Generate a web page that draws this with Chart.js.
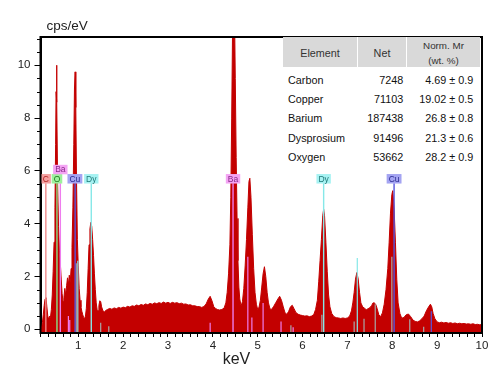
<!DOCTYPE html>
<html><head><meta charset="utf-8">
<script src="https://cdn.jsdelivr.net/npm/chart.js@4/dist/chart.umd.min.js"></script>
<style>
html,body{margin:0;padding:0;background:#fff;}
#wrap{position:relative;width:491px;height:369px;overflow:hidden;font-family:"Liberation Sans",Arial,sans-serif;}
#c{position:absolute;left:0;top:0;}
#tbl{position:absolute;left:283px;top:37px;width:197px;height:132px;background:#fff;}
#tbl .hd{position:absolute;top:0;height:30px;background:#d9d9d9;color:#333;}
#tbl .t{position:absolute;white-space:nowrap;color:#111;font-size:10.8px;height:18px;line-height:18px;}
</style></head>
<body><div id="wrap"><canvas id="c" width="491" height="369"></canvas><div id="tbl"></div></div>
<script>
// ---- spectrum data (keV, cps/eV) ----
const energies = [
0.158,0.18,0.20,0.22,0.24,0.26,0.28,0.30,0.32,0.34,0.36,0.38,0.40,0.42,0.44,0.46,0.48,0.495,0.505,0.515,
0.525,0.54,0.56,0.58,0.60,0.62,0.64,0.66,0.68,0.70,0.72,0.74,0.76,0.78,0.80,0.82,0.84,0.86,0.88,0.90,
0.915,0.93,0.945,0.96,0.98,1.00,1.02,1.04,1.06,1.08,1.10,1.12,1.14,1.16,1.18,1.20,1.22,1.24,1.26,1.28,
1.30,1.32,1.34,1.36,1.38,1.40,1.42,1.44,1.46,1.48,1.50,1.52,1.55,1.58,1.61,1.65,1.70,1.75,1.80,1.85,
1.90,1.95,2.00,2.05,2.10,2.15,2.20,2.25,2.30,2.35,2.40,2.45,2.50,2.55,2.60,2.65,2.70,2.75,2.80,2.85,
2.90,2.95,3.00,3.05,3.10,3.15,3.20,3.25,3.30,3.35,3.40,3.45,3.50,3.55,3.60,3.65,3.70,3.75,3.80,3.85,
3.90,3.94,3.98,4.02,4.06,4.10,4.15,4.20,4.25,4.29,4.32,4.35,4.38,4.40,4.42,4.44,4.46,4.48,4.50,4.52,
4.54,4.56,4.58,4.60,4.63,4.66,4.69,4.72,4.75,4.78,4.805,4.825,4.85,4.88,4.91,4.94,4.97,5.00,5.03,5.06,
5.09,5.12,5.15,5.18,5.21,5.24,5.27,5.30,5.35,5.40,5.45,5.49,5.53,5.57,5.61,5.65,5.69,5.73,5.77,5.81,
5.85,5.90,5.95,6.00,6.05,6.10,6.15,6.20,6.25,6.29,6.33,6.36,6.39,6.42,6.45,6.47,6.49,6.52,6.55,6.58,
6.61,6.65,6.70,6.75,6.80,6.85,6.90,6.95,7.00,7.05,7.09,7.12,7.15,7.18,7.21,7.24,7.27,7.30,7.34,7.38,
7.42,7.46,7.50,7.54,7.57,7.60,7.63,7.66,7.70,7.74,7.78,7.82,7.86,7.90,7.93,7.96,7.99,8.01,8.04,8.07,
8.10,8.13,8.17,8.21,8.26,8.31,8.36,8.41,8.46,8.51,8.56,8.61,8.66,8.71,8.76,8.81,8.85,8.88,8.91,8.95,
9.00,9.05,9.10,9.15,9.20,9.25,9.30,9.35,9.40,9.45,9.50,9.55,9.60,9.65,9.70,9.75,9.80,9.85,9.90,9.95,
10.0];
const counts = [
0.00,0.05,0.25,0.55,0.90,1.15,1.20,0.85,0.50,0.38,0.50,0.45,0.75,1.30,2.20,3.30,4.60,7.00,9.00,10.0,
8.60,5.50,3.90,3.00,2.50,1.90,1.35,1.05,1.20,1.55,1.30,1.65,1.95,1.70,2.05,1.75,2.30,3.10,4.60,7.00,
9.10,9.75,8.40,5.80,3.40,2.40,1.55,1.10,0.85,0.68,0.55,0.45,0.40,0.50,0.80,1.40,2.30,3.20,3.80,4.05,
3.90,3.40,2.80,2.10,1.50,1.00,0.75,0.70,0.90,1.08,1.05,0.85,0.70,0.66,0.71,0.75,0.79,0.76,0.81,0.78,
0.83,0.80,0.84,0.82,0.87,0.84,0.89,0.87,0.92,0.89,0.94,0.91,0.96,0.93,0.98,0.95,1.00,0.97,1.01,0.98,
1.03,0.99,1.02,0.98,1.02,0.99,1.01,0.97,0.99,0.95,0.96,0.92,0.93,0.89,0.89,0.86,0.86,0.83,0.86,0.96,
1.15,1.25,1.08,0.86,0.79,0.75,0.73,0.75,0.80,1.00,1.40,2.10,3.20,5.00,8.00,11.5,13.5,12.5,9.50,6.50,
4.20,2.60,1.60,1.15,0.88,1.05,1.55,2.40,3.40,4.60,5.60,5.72,5.00,3.60,2.30,1.40,0.95,0.75,0.84,1.10,
1.60,2.10,2.37,2.00,1.40,1.00,0.80,0.74,0.85,1.00,1.15,1.25,1.10,0.85,0.62,0.57,0.68,0.85,0.91,0.78,
0.64,0.57,0.54,0.52,0.50,0.51,0.48,0.50,0.56,0.75,1.10,1.80,2.60,3.40,4.30,4.55,4.30,3.30,2.20,1.30,
0.85,0.60,0.48,0.44,0.43,0.41,0.43,0.41,0.43,0.50,0.70,1.00,1.40,1.90,2.15,1.90,1.40,1.00,0.85,0.80,
0.74,0.78,0.82,0.90,1.00,1.00,0.95,0.80,0.55,0.48,0.62,0.95,1.50,2.30,3.30,4.40,5.10,5.25,4.60,3.30,
1.90,1.00,0.60,0.42,0.45,0.55,0.58,0.48,0.35,0.30,0.28,0.32,0.40,0.50,0.70,0.85,0.95,0.85,0.60,0.40,
0.28,0.25,0.27,0.24,0.26,0.23,0.25,0.22,0.24,0.21,0.23,0.21,0.22,0.20,0.21,0.19,0.21,0.18,0.19,0.17,
0.18];

// ---- element marker lines (keV, height in cps/eV, element) ----
const markerEnergy  = [0.277,0.525,0.60,0.93,1.29,4.45,6.47,8.04, 0.78,0.81,0.955,0.99,1.50,1.68,3.94,4.78,4.87,5.12,5.52,5.74,5.79,6.43,7.15,7.22,7.37,7.62,7.99,8.39,8.70,8.87];
const markerHeight  = [5.53,5.53,5.53,5.53,5.53,5.53,5.53,5.53, 0.50,0.35,2.50,2.60,0.25,0.12,0.25,2.75,0.45,1.00,0.30,0.15,0.08,0.55,0.30,2.70,0.40,0.95,2.75,0.38,0.10,0.68];
const markerElement = ['C','O','Ba','Cu','Dy','Ba','Dy','Cu', 'Ba','Ba','other','Dy','other','other','Ba','Ba','Ba','Ba','Ba','other','Ba','other','other','Dy','other','other','other','other','other','Cu'];

// ---- peak labels ----
const labelElement = ['C','O','Ba','Cu','Dy','Ba','Dy','Cu'];
const labelEnergy  = [0.277,0.525,0.60,0.925,1.29,4.45,6.47,8.04];
const labelLevel   = [5.70,5.70,6.05,5.70,5.70,5.70,5.70,5.70];

// ---- axis ticks ----
const xTickLabels = [1,2,3,4,5,6,7,8,9,10];
const yTickLabels = [0,2,4,6,8,10];

// ---- quantification table ----
const tblElements = ['Carbon','Copper','Barium','Dysprosium','Oxygen'];
const tblNet      = [7248,71103,187438,91496,53662];
const tblNormMr   = ['4.69','19.02','26.8','21.3','28.2'];
const tblErr      = ['0.9','0.5','0.8','0.6','0.9'];

// ---- styles ----
const X_MIN = 0.158, X_MAX = 10, Y_MIN = -0.14, Y_MAX = 11.07;
const FONT = '"Liberation Sans", Arial, sans-serif';
const elemStyle = {
  C:  {line:'#ee8a8a', box:'#f3a0a0', text:'#b02020'},
  O:  {line:'#86e486', box:'#9cf09c', text:'#207a20'},
  Ba: {line:'#ee7cee', box:'#f4a4f4', text:'#8a2a8a'},
  Cu: {line:'#5656dc', box:'#a4a4f2', text:'#2a2a90'},
  Dy: {line:'#86e8e8', box:'#a6f2f2', text:'#207878'},
  other: {line:'#a8a8a8'}
};

const spectrum = {
  label:'spectrum', order:10,
  data: energies.map((e,i)=>({x:e,y:counts[i]})),
  borderColor:'#c30000', backgroundColor:'#c30000', borderWidth:1,
  pointRadius:0, fill:'start', tension:0
};
const markerSets = markerEnergy.map((e,i)=>({
  label:'m'+i, order:1,
  data:[{x:e,y:Y_MIN},{x:e,y:markerHeight[i]}],
  borderColor: elemStyle[markerElement[i]].line,
  borderWidth: i<8 ? 1.4 : 1.2,
  pointRadius:0, fill:false
}));

const xMinorTicks = [];
for (let k=1;k<=60;k++){ const v=k/6; if (v>=X_MIN && v<=X_MAX) xMinorTicks.push(v); }
const yMinorTicks = [];
for (let k=0;k<=22;k++){ const v=k/2; if (v<=Y_MAX && !yTickLabels.includes(v)) yMinorTicks.push(v); }

const decor = {
  id:'decor',
  afterDatasetsDraw(chart){
    const ctx = chart.ctx, xs = chart.scales.x, ys = chart.scales.y;
    ctx.save();
    ctx.font = '8.5px ' + FONT;
    ctx.textAlign='center'; ctx.textBaseline='middle';
    labelElement.forEach((el,i)=>{
      const st = elemStyle[el];
      const cx = xs.getPixelForValue(labelEnergy[i]);
      const cy = ys.getPixelForValue(labelLevel[i]);
      const w = ctx.measureText(el).width + 4;
      const h = 9.5;
      ctx.fillStyle = st.box;
      ctx.fillRect(cx - w/2, cy - h/2, w, h);
      ctx.fillStyle = st.text;
      ctx.fillText(el, cx, cy + 0.5);
    });
    ctx.restore();
  },
  afterDraw(chart){
    const ctx = chart.ctx, a = chart.chartArea, ys = chart.scales.y;
    ctx.save();
    ctx.strokeStyle='#000'; ctx.lineWidth=1;
    yMinorTicks.forEach(v=>{
      const y = Math.round(ys.getPixelForValue(v)) + 0.5;
      ctx.beginPath(); ctx.moveTo(a.left-3.5, y); ctx.lineTo(a.left, y); ctx.stroke();
    });
    ctx.lineWidth=2;
    ctx.strokeRect(a.left, a.top, a.right-a.left, a.bottom-a.top);
    ctx.fillStyle='#222';
    ctx.font='13.5px ' + FONT; ctx.textAlign='left'; ctx.textBaseline='alphabetic';
    ctx.fillText('cps/eV', 46.5, 30);
    ctx.font='16px ' + FONT; ctx.textAlign='center';
    ctx.fillText('keV', 236.5, 364);
    ctx.restore();
  }
};

new Chart(document.getElementById('c'), {
  type:'line',
  data:{datasets:[spectrum, ...markerSets]},
  options:{
    responsive:false, animation:false, devicePixelRatio:1,
    layout:{padding:{left:0,right:9,top:37,bottom:0}},
    plugins:{legend:{display:false}, tooltip:{enabled:false}, title:{display:false}},
    scales:{
      x:{type:'linear', min:X_MIN, max:X_MAX,
        afterFit(s){ s.height = 36; },
        afterBuildTicks(s){ s.ticks = xMinorTicks.map(v=>({value:v})); },
        ticks:{autoSkip:false, maxRotation:0, padding:2, color:'#222', font:{family:FONT, size:11.5},
          callback:(v)=>{ const r=Math.round(v); return (Math.abs(v-r)<1e-6 && xTickLabels.includes(r)) ? String(r) : ''; }},
        grid:{drawOnChartArea:false, drawTicks:true, tickLength:4, tickColor:'#000', tickWidth:1},
        border:{display:true, color:'#000', width:2}
      },
      y:{type:'linear', min:Y_MIN, max:Y_MAX,
        afterFit(s){ s.width = 40.5; },
        afterBuildTicks(s){ s.ticks = yTickLabels.map(v=>({value:v})); },
        ticks:{autoSkip:false, padding:4, color:'#222', font:{family:FONT, size:11.5},
          callback:(v)=>String(v)},
        grid:{drawOnChartArea:false, drawTicks:true, tickLength:6, tickColor:'#000', tickWidth:1},
        border:{display:true, color:'#000', width:2}
      }
    }
  },
  plugins:[decor]
});

// ---- table (HTML) ----
(function(){
  const t = document.getElementById('tbl');
  const add = (html, style, cls) => { const d=document.createElement('div'); d.className=cls||'t'; d.style.cssText=style; d.textContent=html; t.appendChild(d); return d; };
  add('', 'left:0;width:74px;', 'hd');
  add('', 'left:75px;width:48px;', 'hd');
  add('', 'left:124px;width:73px;', 'hd');
  add('Element', 'left:0;width:74px;top:7px;text-align:center;color:#333;', 't');
  add('Net', 'left:75px;width:48px;top:7px;text-align:center;color:#333;', 't');
  add('Norm. Mr', 'left:124px;width:73px;top:0px;text-align:center;color:#333;font-size:9.8px;', 't');
  add('(wt. %)', 'left:124px;width:73px;top:14.5px;text-align:center;color:#333;font-size:9.8px;', 't');
  tblElements.forEach((el,i)=>{
    const top = 43 + i*19.2 - 9;
    add(el, 'left:5px;top:'+top+'px;', 't');
    add(String(tblNet[i]), 'left:0;width:120.3px;text-align:right;top:'+top+'px;', 't');
    add(tblNormMr[i] + ' \u00b1 ' + tblErr[i], 'left:0;width:190.3px;text-align:right;top:'+top+'px;', 't');
  });
})();
</script>
</body></html>
